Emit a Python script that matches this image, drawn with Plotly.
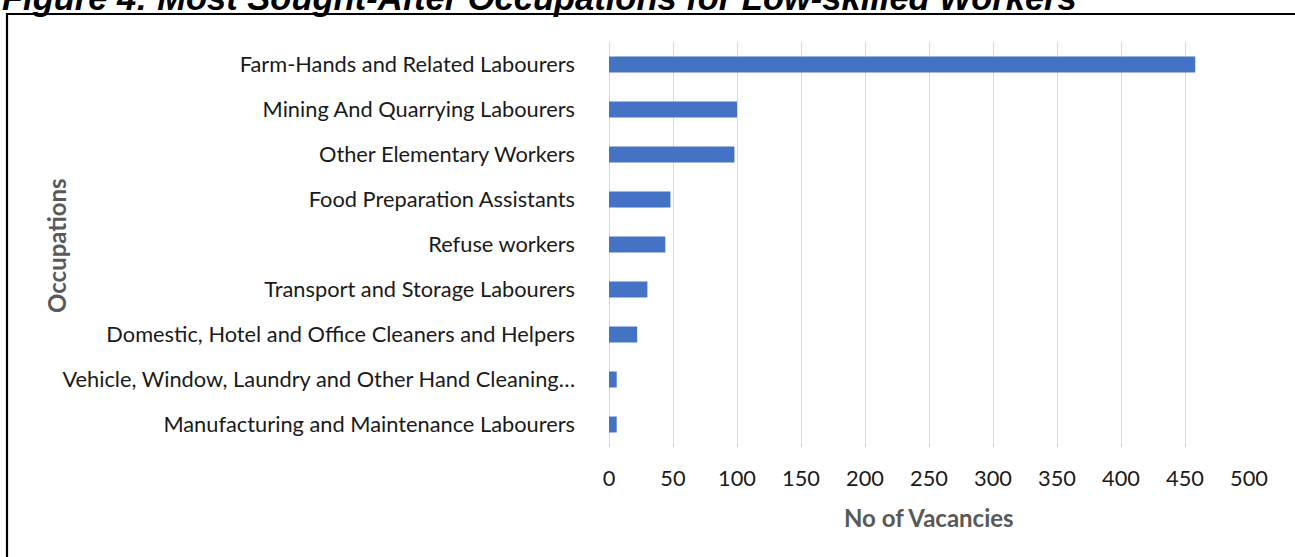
import plotly.graph_objects as go

categories = [
    "Farm-Hands and Related Labourers",
    "Mining And Quarrying Labourers",
    "Other Elementary Workers",
    "Food Preparation Assistants",
    "Refuse workers",
    "Transport and Storage Labourers",
    "Domestic, Hotel and Office Cleaners and Helpers",
    "Vehicle, Window, Laundry and Other Hand Cleaning…",
    "Manufacturing and Maintenance Labourers",
]
vacancies = [458, 100, 98, 48, 44, 30, 22, 6, 6]
x_ticks = [0, 50, 100, 150, 200, 250, 300, 350, 400, 450, 500]

title_text = "Figure 4: Most Sought-After Occupations for Low-skilled Workers"
x_title = "No of Vacancies"
y_title = "Occupations"

W, H = 1295, 557
L, R, T, B = 609, 46, 42, 110
pw, ph = W - L - R, H - T - B


def px(xp):
    return (xp - L) / pw


def py(yp):
    return (H - B - yp) / ph


fig = go.Figure(
    go.Bar(
        x=vacancies,
        y=categories,
        orientation="h",
        marker=dict(color="#4472C4", line=dict(width=0)),
        hoverinfo="x+y",
    )
)

label_font = dict(family="Lato, Calibri, sans-serif", size=21.8, color="#1a1a1a")
title_font = dict(family="Lato, Calibri, sans-serif", size=24, color="#595959")

fig.update_layout(
    width=W,
    height=H,
    margin=dict(l=L, r=R, t=T, b=B, autoexpand=False),
    paper_bgcolor="white",
    plot_bgcolor="white",
    bargap=0.645,
    showlegend=False,
    xaxis=dict(
        range=[0, 500],
        tickvals=x_ticks,
        showgrid=True,
        gridcolor="#D9D9D9",
        gridwidth=1.3,
        zeroline=True,
        zerolinecolor="#D9D9D9",
        zerolinewidth=1.3,
        showline=False,
        ticks="",
        tickfont=label_font,
        ticklabelstandoff=16,
        automargin=False,
    ),
    yaxis=dict(
        autorange="reversed",
        showgrid=False,
        zeroline=False,
        showline=False,
        ticks="",
        tickfont=label_font,
        ticklabelstandoff=33,
        automargin=False,
    ),
    annotations=[
        dict(
            text="<b><i>" + title_text + "</i></b>",
            xref="paper", yref="paper",
            x=px(0), y=py(-1.8),
            xanchor="left", yanchor="middle",
            showarrow=False,
            font=dict(family="Liberation Sans, Arial, sans-serif", size=34.5, color="black"),
        ),
        dict(
            text="<b>" + x_title + "</b>",
            xref="paper", yref="paper",
            x=0.5, y=py(517),
            xanchor="center", yanchor="middle",
            showarrow=False,
            font=title_font,
        ),
        dict(
            text="<b>" + y_title + "</b>",
            xref="paper", yref="paper",
            x=px(56), y=py(246),
            xanchor="center", yanchor="middle",
            textangle=-90,
            showarrow=False,
            font=title_font,
        ),
    ],
    shapes=[
        dict(
            type="rect",
            xref="paper", yref="paper",
            x0=px(7), x1=px(1310),
            y0=py(575), y1=py(14),
            line=dict(color="black", width=2.2),
            fillcolor="rgba(0,0,0,0)",
            layer="above",
        )
    ],
)

fig.write_html(
    "out.html",
    config={"displayModeBar": False},
    post_script="document.body.style.margin='0';document.body.style.overflow='hidden';",
)
